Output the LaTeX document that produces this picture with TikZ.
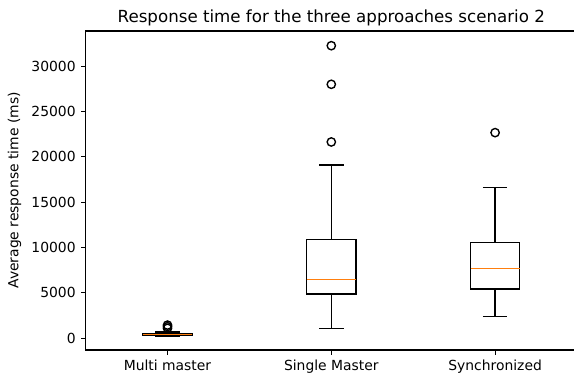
\documentclass[tikz,border=0pt]{standalone}
\usepackage{fontspec}
\setmainfont{DejaVu Sans}
\definecolor{medianline}{HTML}{FF7F0E}
\tikzset{
  spine/.style={line width=0.8pt, black},
  tickmark/.style={line width=0.8pt, black},
  ticklabel/.style={font=\fontsize{10}{12}\selectfont, inner sep=0pt},
  axislabel/.style={font=\fontsize{10}{12}\selectfont, inner sep=0pt},
  titletext/.style={font=\fontsize{12}{14.4}\selectfont, inner sep=0pt},
  boxline/.style={line width=1pt, black},
  medianbar/.style={line width=1pt, medianline},
  flier/.style={circle, draw=black, line width=1pt, minimum size=6pt, inner sep=0pt},
}

\begin{document}
\begin{tikzpicture}[x=117.94pt, y=6.528pt]
    \useasboundingbox (-0.0226,-4.378) rectangle (3.4817,37.31);
    % axes frame (right side falls outside the picture)
    \draw[spine] (3.5,33.89) -- (0.5,33.89) -- (0.5,-1.29) -- (3.5,-1.29);
    \foreach \v/\txt in {0/0,5/5000,10/10000,15/15000,20/20000,25/25000,30/30000} {
      \draw[tickmark] (0.5,\v) -- ++(-3.5pt,0);
      \node[ticklabel, anchor=east, xshift=-7pt] (ytick\v) at (0.5,\v) {\txt};
    }
    % boxes: position / low / q1 / median / q3 / high / label
    \foreach \p/\lo/\qa/\me/\qb/\hi/\name in {1/0.18/0.32/0.44/0.52/0.68/Multi master,
        2/1.10/4.89/6.47/10.88/19.11/Single Master,
        3/2.39/5.44/7.68/10.55/16.65/Synchronized} {
      \draw[boxline] (\p-0.15,\qa) rectangle (\p+0.15,\qb);
      \draw[boxline] (\p,\qa) -- (\p,\lo) (\p-0.075,\lo) -- (\p+0.075,\lo);
      \draw[boxline] (\p,\qb) -- (\p,\hi) (\p-0.075,\hi) -- (\p+0.075,\hi);
      \draw[medianbar] (\p-0.15,\me) -- (\p+0.15,\me);
      \draw[tickmark] (\p,-1.29) -- ++(0,-3.5pt);
      \node[ticklabel, anchor=north, yshift=-7pt] (xtick\p) at (\p,-1.29) {\name};
    }
    \node[flier] (mm1) at (1,1.10) {};
    \node[flier] (mm2) at (1,1.28) {};
    \node[flier] (mm3) at (1,1.45) {};
    \node[flier] (sm1) at (2,21.65) {};
    \node[flier] (sm2) at (2,28.01) {};
    \node[flier] (sm3) at (2,32.27) {};
    \node[flier] (sy1) at (3,22.68) {};
    \node[axislabel, rotate=90] (ylabel) at (0.0659,16.3) {Average response time (ms)};
    \node[titletext, anchor=base, yshift=6pt] (title) at (2,33.89) {Response time for the three approaches scenario 2};
  \end{tikzpicture}
\end{document}
